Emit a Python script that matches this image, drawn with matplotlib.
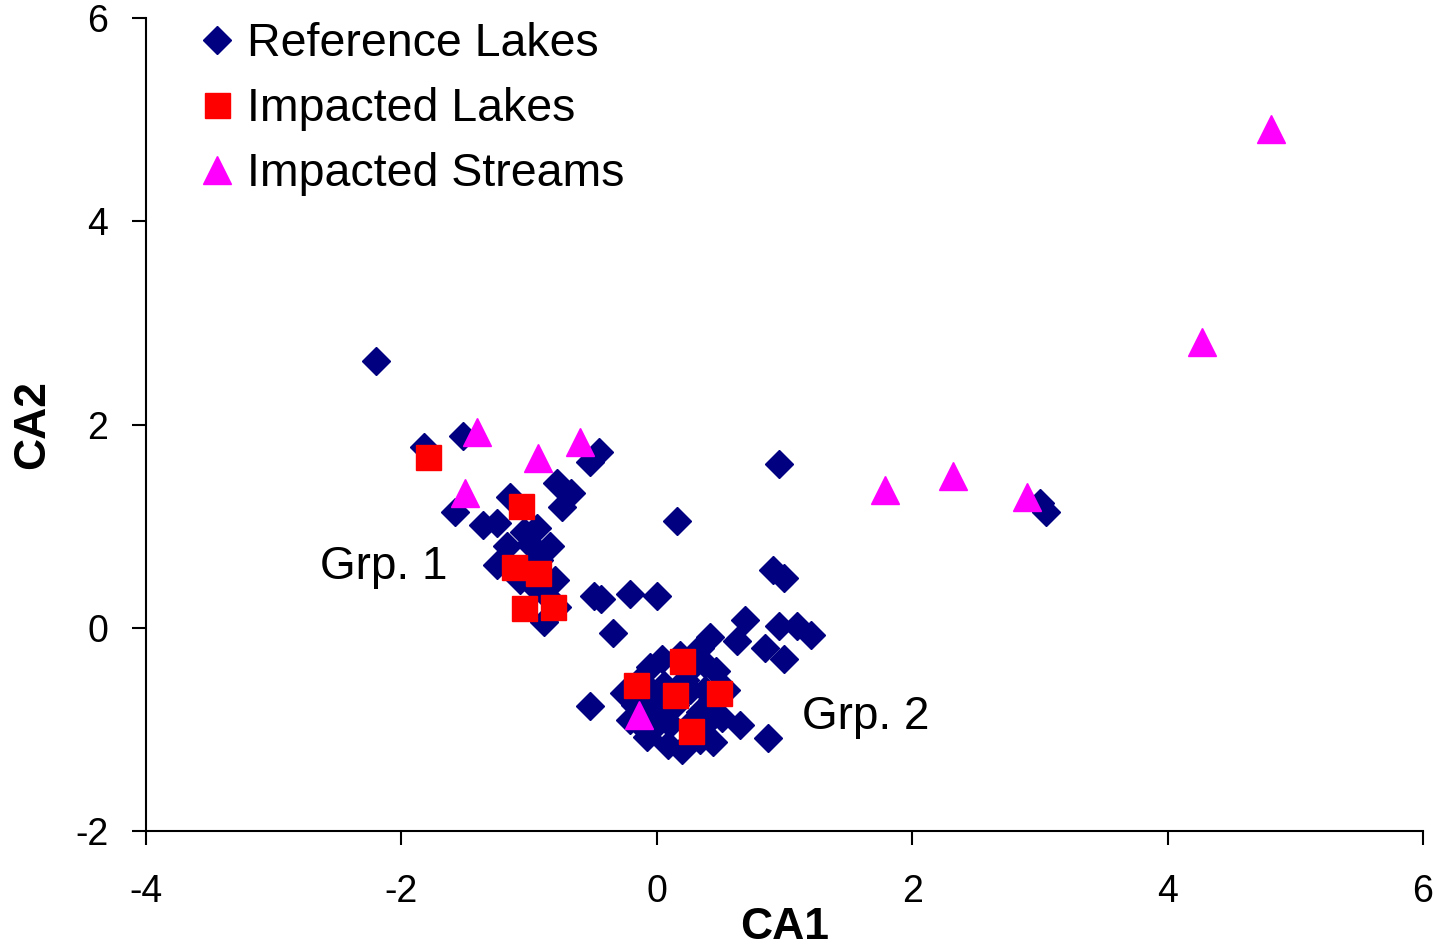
"""
Correspondence analysis ordination: CA1 vs CA2 site scores
for reference lakes, impacted lakes and impacted streams.
"""

import matplotlib
matplotlib.use('Agg')
import matplotlib.pyplot as plt
import matplotlib.ticker as ticker

plt.rcParams['font.family'] = ['Liberation Sans', 'DejaVu Sans']
plt.rcParams['axes.unicode_minus'] = False

# ---------------------------------------------------------------------------
# Site scores
# ---------------------------------------------------------------------------

ref_ca1 = [-2.20, -1.82, -1.52, -0.45, -0.52, 0.96, 0.16, -1.58, -1.36, -1.25,
           -1.15, -0.78, -0.67, -0.74, -0.94, -1.04, -1.17, -0.84, -1.25, -0.97,
           -0.80, -0.78, -0.88, -0.49, -0.44, -0.21, 0.00, -0.34, 0.91, 1.00,
           0.69, 0.96, 1.10, 1.21, 1.00, 0.85, 0.63, 0.42, 0.65, 0.87,
           -0.52, 3.00, 3.05, -0.92, -1.07, -0.85, -0.99,
           -0.26, -0.13, -0.05, 0.04, 0.18, 0.34, 0.26, 0.38, 0.46, 0.54,
           0.43, 0.34, 0.02, -0.09, -0.04, -0.08, 0.09, 0.20, 0.34, 0.44,
           0.51, 0.26, -0.17, 0.06, 0.38,
           0.14, 0.26, -0.05, 0.10, 0.38, -0.21, 0.45, 0.22, 0.02, -0.13]
ref_ca2 = [2.63, 1.78, 1.89, 1.73, 1.63, 1.61, 1.05, 1.14, 1.01, 1.03,
           1.29, 1.42, 1.33, 1.19, 0.98, 0.94, 0.80, 0.80, 0.62, 0.42,
           0.47, 0.20, 0.06, 0.31, 0.28, 0.33, 0.31, -0.05, 0.57, 0.49,
           0.08, 0.02, 0.02, -0.07, -0.31, -0.20, -0.13, -0.09, -0.96, -1.08,
           -0.77, 1.23, 1.14, 0.67, 0.47, 0.30, 0.82,
           -0.64, -0.51, -0.39, -0.31, -0.27, -0.20, -0.41, -0.36, -0.43, -0.61,
           -0.71, -0.83, -0.71, -0.83, -1.00, -1.07, -1.15, -1.20, -1.10, -1.12,
           -0.89, -0.95, -0.76, -0.56, -0.61,
           -0.76, -0.61, -0.61, -0.95, -0.95, -0.91, -0.86, -0.51, -0.86, -0.95]

lake_ca1 = [-1.79, -1.06, -1.12, -0.93, -1.04, -0.81, 0.20, -0.16, 0.14, 0.49, 0.27]
lake_ca2 = [1.68, 1.20, 0.60, 0.54, 0.19, 0.20, -0.33, -0.56, -0.66, -0.64, -1.02]

stream_ca1 = [4.81, 4.27, 2.32, 1.79, 2.90, -1.41, -0.60, -0.93, -1.50, -0.14]
stream_ca2 = [4.91, 2.81, 1.49, 1.36, 1.29, 1.93, 1.83, 1.67, 1.33, -0.86]

group_labels = ['Grp. 1', 'Grp. 2']
group_x = [-2.64, 1.14]
group_y = [0.60, -0.88]


# ---------------------------------------------------------------------------
# Plot
# ---------------------------------------------------------------------------

fig = plt.figure(figsize=(14.41, 9.49), dpi=100)
ax = fig.add_axes([0.1013, 0.1243, 0.8862, 0.8567])

ax.plot(ref_ca1, ref_ca2, linestyle='none', marker='D', ms=14,
        color='#000080', mec='#000080', label='Reference Lakes')
ax.plot(lake_ca1, lake_ca2, linestyle='none', marker='s', ms=18,
        color='#FF0000', mec='#FF0000', label='Impacted Lakes')
ax.plot(stream_ca1, stream_ca2, linestyle='none', marker='^', ms=20,
        color='#FF00FF', mec='#FF00FF', label='Impacted Streams')

for lab, gx, gy in zip(group_labels, group_x, group_y):
    ax.text(gx, gy, lab, fontsize=33, ha='left', va='center')

ax.set_xlim(-4, 6)
ax.set_ylim(-2, 6)
ax.xaxis.set_major_locator(ticker.MultipleLocator(2))
ax.yaxis.set_major_locator(ticker.MultipleLocator(2))

for side in ('top', 'right'):
    ax.spines[side].set_visible(False)
for side in ('left', 'bottom'):
    ax.spines[side].set_linewidth(1.5)

ax.tick_params(axis='both', direction='out', length=10, width=1.5,
               labelsize=27)
ax.tick_params(axis='y', pad=17)
ax.tick_params(axis='x', pad=21)

ax.set_xlabel('CA1', fontsize=32, fontweight='bold', labelpad=-2)
ax.set_ylabel('CA2', fontsize=32, fontweight='bold', labelpad=16)

ax.legend(loc='upper left', bbox_to_anchor=(0.0265, 1.018), frameon=False,
          fontsize=33.5, handlelength=0.8, handletextpad=0.25,
          labelspacing=0.45, borderaxespad=0)

fig.savefig('out.png', dpi=100)
